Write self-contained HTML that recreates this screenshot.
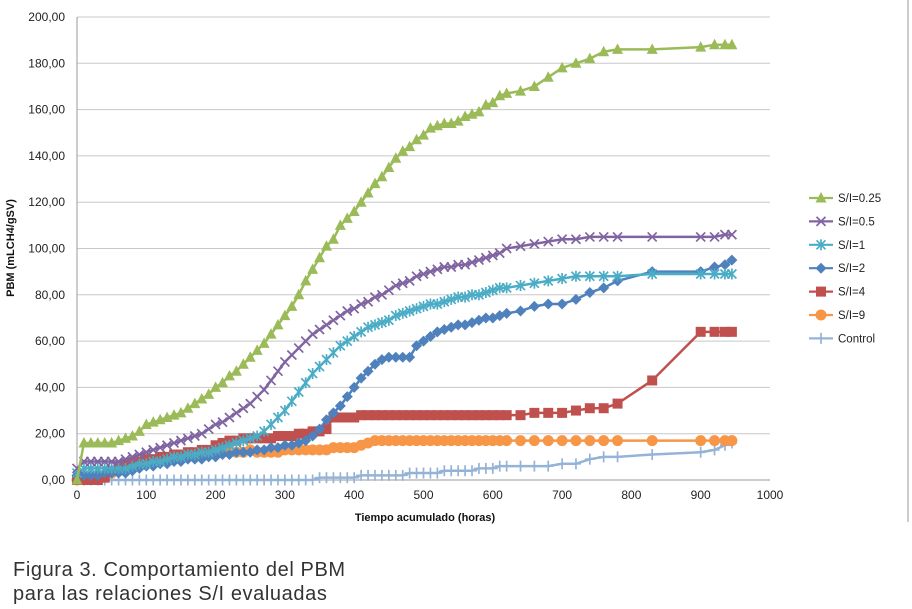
<!DOCTYPE html>
<html><head><meta charset="utf-8"><style>
body{margin:0;background:#fff;width:912px;height:609px;overflow:hidden;font-family:"Liberation Sans",sans-serif}
svg{position:absolute;left:0;top:0}
.cap{position:absolute;left:13px;font-size:20px;color:#333;font-family:"Liberation Sans",sans-serif;letter-spacing:0.6px}
</style></head><body>
<svg id="chart" width="912" height="609"></svg>
<div class="cap" style="top:559px">Figura 3. Comportamiento del PBM</div>
<div class="cap" style="top:583px">para las relaciones S/I evaluadas</div>
<script>
const times=[0,10,20,30,40,50,60,70,80,90,100,110,120,130,140,150,160,170,180,190,200,210,220,230,240,250,260,270,280,290,300,310,320,330,340,350,360,370,380,390,400,410,420,430,440,450,460,470,480,490,500,510,520,530,540,550,560,570,580,590,600,610,620,640,660,680,700,720,740,760,780,830,900,920,935,945];
const sGreen=[0,16,16,16,16,16,17,18,19,21,24,25,26,27,28,29,31,33,35,37,40,42,45,47,50,53,56,59,63,67,71,75,80,86,91,96,101,104,110,113,116,120,124,128,131,135,139,142,144,147,149,152,153,154,154,155,157,158,159,162,163,166,167,168,170,174,178,180,182,185,186,186,187,188,188,188];
const sPurple=[5,8,8,8,8,8,8,9,10,11,12,13,14,15,16,17,18,19,20,22,24,25,27,29,31,33,36,39,43,47,51,54,57,60,63,65,67,69,71,73,74,76,77,79,80,82,84,85,86,88,89,90,91,92,92,93,93,94,95,96,97,98,100,101,102,103,104,104,105,105,105,105,105,105,106,106];
const sTeal=[3,5,5,5,5,5,5,5,6,7,7,8,8,9,10,10,11,11,12,12,13,14,15,16,17,18,19,21,24,27,30,34,38,42,46,49,52,55,58,60,62,64,66,67,68,69,71,72,73,74,75,76,76,77,78,79,79,80,80,81,82,83,83,84,85,86,87,88,88,88,88,89,89,89,89,89];
const sBlue=[2,2,2,2,3,3,3,3,4,5,6,6,7,7,8,8,9,9,9,10,10,11,11,12,12,12,13,13,14,14,15,15,16,17,19,22,26,29,32,36,40,44,47,50,52,53,53,53,53,58,60,62,64,65,66,67,67,68,69,70,70,71,72,73,75,76,76,78,81,83,86,90,90,92,93,95];
const sRed=[0,0,0,0,1,4,6,7,8,8,9,9,10,10,11,11,12,12,13,13,15,16,17,17,18,18,18,18,18,19,19,19,20,20,21,21,22,27,27,27,27,28,28,28,28,28,28,28,28,28,28,28,28,28,28,28,28,28,28,28,28,28,28,28,29,29,29,30,31,31,33,43,64,64,64,64];
const sOrange=[0,1,1,2,2,3,4,5,6,7,8,8,9,9,10,10,11,11,11,12,12,12,12,12,12,13,12,12,12,12,13,13,13,13,13,13,13,14,14,14,14,15,16,17,17,17,17,17,17,17,17,17,17,17,17,17,17,17,17,17,17,17,17,17,17,17,17,17,17,17,17,17,17,17,17,17];
const sControl=[0,0,0,0,0,0,0,0,0,0,0,0,0,0,0,0,0,0,0,0,0,0,0,0,0,0,0,0,0,0,0,0,0,0,0,1,1,1,1,1,1,2,2,2,2,2,2,2,3,3,3,3,3,4,4,4,4,4,5,5,5,6,6,6,6,6,7,7,9,10,10,11,12,13,15,16];
const yTicks=[0,20,40,60,80,100,120,140,160,180,200];
const xTicks=[0,100,200,300,400,500,600,700,800,900,1000];
const seriesNames=["S/I=0.25"," S/I=0.5","S/I=1","S/I=2","S/I=4","S/I=9","Control"];

const NS="http://www.w3.org/2000/svg";
const svg=document.getElementById('chart');
const X0=77,X1=770,Y0=480,Y1=17;
const xs=t=>X0+t/1000*(X1-X0);
const ys=v=>Y0-v/200*(Y0-Y1);
function mk(tag,attrs,parent){const e=document.createElementNS(NS,tag);for(const k in attrs)e.setAttribute(k,attrs[k]);(parent||svg).appendChild(e);return e;}

const frame=mk('line',{x1:908,x2:908,y1:0,y2:522,stroke:'#bbb','stroke-width':1.5});



yTicks.forEach(v=>{
  const g=mk('line',{x1:X0,x2:X1,y1:ys(v),y2:ys(v),stroke:v===0?'#999':'#c8c8c8','stroke-width':1});
  
  
  const t=mk('text',{x:X0-12,y:ys(v)+4,'text-anchor':'end','font-size':12,fill:'#222'});
  t.textContent=v.toFixed(2).replace('.',',');
  
  
});
const ya=mk('line',{x1:X0,x2:X0,y1:Y1,y2:Y0,stroke:'#999'});


xTicks.forEach(v=>{
  const t=mk('text',{x:xs(v),y:Y0+19,'text-anchor':'middle','font-size':12,fill:'#222'});
  t.textContent=v;
  
  
});
const xt=mk('text',{x:425,y:521,'text-anchor':'middle','font-size':11,'font-weight':'bold',fill:'#111'});
xt.textContent='Tiempo acumulado (horas)';


const yt=mk('text',{x:0,y:0,'text-anchor':'middle','font-size':11,'font-weight':'bold',fill:'#111',transform:'translate(14,248) rotate(-90)'});
yt.textContent='PBM (mLCH4/gSV)';



function marker(type,cx,cy,color,parent){
  const s=5;
  if(type==='tri')return mk('polygon',{points:`${cx},${cy-s-1} ${cx-s-0.5},${cy+s-0.5} ${cx+s+0.5},${cy+s-0.5}`,fill:color},parent);
  if(type==='sq')return mk('rect',{x:cx-5,y:cy-5,width:10,height:10,fill:color},parent);
  if(type==='dia')return mk('polygon',{points:`${cx},${cy-5.5} ${cx+5.5},${cy} ${cx},${cy+5.5} ${cx-5.5},${cy}`,fill:color},parent);
  if(type==='circ')return mk('circle',{cx,cy,r:5.5,fill:color},parent);
  const g=mk('g',{stroke:color,'stroke-width':1.7},parent);
  if(type==='x'||type==='ast'){mk('line',{x1:cx-4.5,y1:cy-4.5,x2:cx+4.5,y2:cy+4.5},g);mk('line',{x1:cx-4.5,y1:cy+4.5,x2:cx+4.5,y2:cy-4.5},g);}
  if(type==='ast'||type==='plus'){mk('line',{x1:cx,y1:cy-5.5,x2:cx,y2:cy+5.5},g);}
  if(type==='plus'){mk('line',{x1:cx-5,y1:cy,x2:cx+5,y2:cy},g);}
  return g;
}
const series=[
 {vals:sControl,color:'#95b3d7',m:'plus',name:'series-control'},
 {vals:sOrange,color:'#f79646',m:'circ',name:'series-si-9'},
 {vals:sRed,color:'#c0504d',m:'sq',name:'series-si-4'},
 {vals:sBlue,color:'#4f81bd',m:'dia',name:'series-si-2'},
 {vals:sTeal,color:'#4bacc6',m:'ast',name:'series-si-1'},
 {vals:sPurple,color:'#8064a2',m:'x',name:'series-si-0-5'},
 {vals:sGreen,color:'#9bbb59',m:'tri',name:'series-si-0-25'}
];
series.forEach(s=>{
  const g=mk('g',{});
  
  
  mk('polyline',{points:times.map((t,i)=>xs(t)+','+ys(s.vals[i])).join(' '),fill:'none',stroke:s.color,'stroke-width':2.5},g);
  times.forEach((t,i)=>{const m=marker(s.m,xs(t),ys(s.vals[i]),s.color,g);
    
    });
});
const legOrder=[6,5,4,3,2,1,0];
legOrder.forEach((si,i)=>{
  const s=series[si];const y=198+i*23.4;
  const g=mk('g',{});
  
  
  mk('line',{x1:809,x2:833,y1:y,y2:y,stroke:s.color,'stroke-width':2.2},g);
  marker(s.m,821,y,s.color,g);
  const t=mk('text',{x:838,y:y+4,'font-size':11.5,fill:'#222'},g);
  t.textContent=seriesNames[i];
});
</script>
</body></html>
